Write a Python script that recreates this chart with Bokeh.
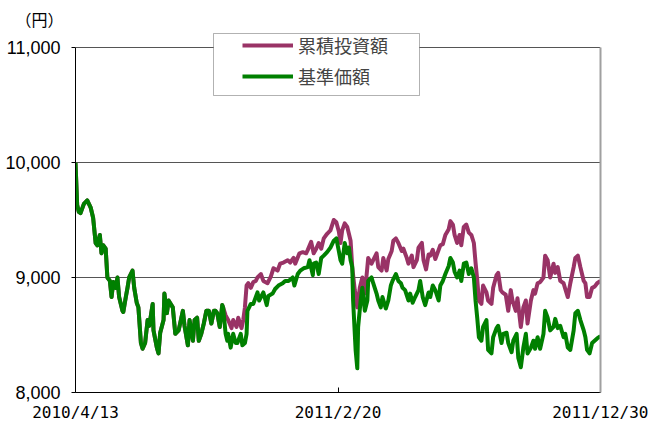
from bokeh.plotting import figure
from bokeh.models import (Range1d, NumeralTickFormatter, FixedTicker, Legend,
                          LegendItem, BoxAnnotation, LinearAxis)
from bokeh.core.properties import value
from bokeh.embed import file_html
from bokeh.resources import INLINE

# ---- data (days since 2010/4/13, yen) ----
green_name = "基準価額"
purple_name = "累積投資額"
y_unit = "（円）"

x_tick_days = [0, 313, 626]
x_tick_labels = ["2010/4/13", "2011/2/20", "2011/12/30"]
y_ticks = [8000, 9000, 10000, 11000]

green_days = [
    0, 2, 4, 6, 10, 14, 18, 21, 24, 26,
    29, 31, 33, 36, 38, 41, 43, 45, 48, 50,
    52, 56, 57, 60, 62, 64, 68, 70, 73, 75,
    78, 80, 83, 86, 88, 92, 93, 97, 99, 101,
    105, 106, 109, 111, 116, 119, 123, 128, 130, 134,
    136, 140, 142, 145, 147, 150, 153, 156, 159, 162,
    165, 167, 169, 172, 175, 176, 179, 181, 182, 185,
    188, 191, 193, 197, 199, 202, 204, 205, 209, 212,
    217, 219, 224, 228, 230, 235, 238, 242, 247, 250,
    254, 259, 261, 265, 268, 272, 277, 279, 283, 284,
    287, 290, 293, 296, 300, 304, 308, 311, 314, 316,
    318, 321, 324, 326, 328, 330, 331, 334, 336, 337,
    340, 342, 345, 348, 349, 353, 355, 359, 361, 364,
    366, 370, 373, 376, 378, 382, 385, 388, 390, 393,
    397, 399, 402, 405, 409, 411, 414, 417, 421, 423,
    426, 429, 433, 435, 438, 441, 445, 447, 450, 452,
    455, 458, 460, 463, 466, 469, 472, 475, 477, 479,
    481, 484, 486, 490, 492, 496, 498, 502, 504, 508,
    510, 514, 516, 520, 522, 526, 528, 531, 534, 537,
    539, 543, 546, 548, 551, 554, 558, 560, 563, 566,
    570, 572, 575, 578, 582, 584, 587, 590, 594, 596,
    599, 602, 606, 608, 610, 613, 616, 619, 622, 626,
]
green_values = [
    10000, 9630, 9570, 9560, 9640, 9670, 9610, 9520, 9300, 9280,
    9370, 9210, 9280, 9250, 9000, 8970, 8830, 8960, 8910, 9000,
    8830, 8710, 8700, 8830, 8910, 9000, 9060, 8910, 8780, 8740,
    8430, 8380, 8430, 8630, 8580, 8770, 8540, 8390, 8340, 8520,
    8630, 8860, 8690, 8800, 8740, 8510, 8540, 8710, 8580, 8410,
    8630, 8450, 8630, 8650, 8450, 8510, 8600, 8710, 8710, 8600,
    8710, 8710, 8690, 8570, 8760, 8740, 8510, 8450, 8510, 8390,
    8510, 8430, 8430, 8510, 8410, 8430, 8510, 8710, 8770, 8770,
    8870, 8800, 8870, 8760, 8840, 8860, 8900, 8930, 8950, 8970,
    8970, 9000, 8930, 9030, 9060, 9080, 9090, 9150, 9020, 9120,
    9130, 9030, 9170, 9190, 9220, 9260, 9320, 9340, 9230, 9150,
    9120, 9300, 9210, 9260, 9150, 9090, 8800, 8370, 8210, 8570,
    8800, 8910, 8710, 8800, 8970, 9000, 8950, 8860, 8800, 8740,
    8830, 8730, 8800, 8930, 8970, 9030, 8970, 8950, 8910, 8890,
    8800, 8860, 8780, 8830, 8890, 8970, 8830, 8760, 8870, 8830,
    8930, 8890, 8800, 8930, 8970, 9030, 9100, 9170, 9130, 9050,
    9000, 9060, 8970, 9120, 9130, 9030, 9080, 9000, 8800, 8650,
    8480, 8450, 8570, 8630, 8370, 8340, 8480, 8560, 8580, 8430,
    8510, 8520, 8430, 8350, 8450, 8510, 8300, 8220, 8390, 8510,
    8340, 8390, 8450, 8380, 8480, 8380, 8510, 8710, 8650, 8540,
    8570, 8640, 8560, 8580, 8480, 8510, 8390, 8370, 8540, 8690,
    8710, 8630, 8540, 8480, 8370, 8340, 8430, 8450, 8470, 8490,
]

# cumulative investment equals the NAV until it splits off (day 179 on)
purple_days_late = [
    179, 182, 186, 188, 192, 194, 198, 200, 202, 204,
    206, 209, 212, 215, 217, 221, 224, 229, 233, 236,
    241, 244, 248, 253, 256, 260, 262, 267, 271, 275,
    277, 281, 284, 287, 290, 293, 296, 300, 304, 308,
    311, 314, 316, 318, 321, 324, 326, 328, 330, 333,
    336, 339, 342, 345, 348, 349, 353, 355, 359, 361,
    365, 367, 371, 373, 377, 379, 382, 385, 389, 391,
    395, 397, 401, 403, 407, 409, 413, 415, 418, 421,
    423, 426, 429, 433, 435, 438, 441, 445, 447, 450,
    452, 455, 458, 460, 463, 466, 469, 472, 475, 477,
    479, 481, 484, 486, 490, 492, 496, 498, 502, 504,
    507, 509, 513, 516, 519, 521, 525, 527, 531, 534,
    537, 539, 543, 546, 548, 551, 554, 558, 560, 563,
    566, 570, 572, 575, 578, 582, 584, 587, 590, 594,
    596, 599, 602, 606, 608, 610, 613, 616, 619, 622,
    626,
]
purple_values_late = [
    8670, 8630, 8560, 8630, 8570, 8650, 8560, 8630, 8740, 8930,
    8950, 8910, 8960, 8970, 9000, 9030, 8970, 8950, 9010, 9080,
    9060, 9120, 9130, 9150, 9130, 9170, 9120, 9210, 9220, 9210,
    9240, 9310, 9210, 9250, 9300, 9250, 9340, 9380, 9410, 9500,
    9480, 9400, 9300, 9410, 9470, 9440, 9380, 9320, 9090, 8890,
    8740, 8910, 9000, 8860, 9090, 9170, 9120, 9150, 9210, 9090,
    9060, 9170, 9060, 9160, 9230, 9320, 9340, 9300, 9230, 9250,
    9170, 9120, 9190, 9090, 9150, 9260, 9300, 9150, 9070, 9200,
    9190, 9240, 9160, 9240, 9280, 9290, 9370, 9420, 9490, 9460,
    9370, 9300, 9370, 9280, 9440, 9460, 9390, 9370, 9300, 9130,
    8980, 8800, 8770, 8930, 8870, 8800, 8770, 8910, 9020, 9040,
    8890, 8870, 8850, 8710, 8890, 8800, 8710, 8820, 8570, 8740,
    8800, 8600, 8800, 8890, 8860, 8950, 8960, 9000, 9190, 9150,
    9000, 9120, 9040, 9090, 8970, 8950, 8900, 8830, 8950, 9090,
    9170, 9190, 9090, 8970, 8950, 8830, 8830, 8910, 8920, 8950,
    8970,
]

split_day = purple_days_late[0]
purple_days = [d for d in green_days if d < split_day] + purple_days_late
purple_values = [v for d, v in zip(green_days, green_values) if d < split_day] + purple_values_late

GREEN = "#008000"
PURPLE = "#993366"
JP = "Noto Sans CJK JP"

# frame extends a little above 11,000 so the legend box can overlap the top line
y_top = 11130

p = figure(width=648, height=428, output_backend="svg", toolbar_location=None,
           x_range=Range1d(x_tick_days[0], x_tick_days[-1]),
           y_range=Range1d(y_ticks[0], y_top),
           min_border_left=75, min_border_right=48, min_border_top=32,
           min_border_bottom=36)
p.background_fill_color = "white"
p.border_fill_color = "white"
p.outline_line_color = None

# unit label as title, top-left
p.title.text = y_unit
p.title.text_font = JP
p.title.text_font_size = "16px"
p.title.text_font_style = "normal"
p.title.text_color = "black"
p.title.align = "left"
p.title.offset = -60
p.title.standoff = 3

r_p = p.line(purple_days, purple_values, line_color=PURPLE, line_width=4,
             line_join="round")
r_g = p.line(green_days, green_values, line_color=GREEN, line_width=4,
             line_join="round")

# grid
p.xgrid.visible = False
p.ygrid.ticker = FixedTicker(ticks=y_ticks)
p.ygrid.grid_line_color = "#555555"
p.ygrid.grid_line_width = 1

# left axis
p.yaxis.ticker = FixedTicker(ticks=y_ticks)
p.yaxis.bounds = (y_ticks[0], y_ticks[-1])
p.yaxis.formatter = NumeralTickFormatter(format="0,0")
p.yaxis.major_tick_out = 4
p.yaxis.major_tick_in = 0
p.yaxis.minor_tick_line_color = None
p.yaxis.major_label_standoff = 11
p.yaxis.major_label_text_font = "Liberation Sans"
p.yaxis.major_label_text_font_size = "18px"
p.yaxis.major_label_text_color = "black"
p.yaxis.axis_line_color = "black"
p.yaxis.major_tick_line_color = "black"

# right border line
right = LinearAxis(ticker=FixedTicker(ticks=[]), bounds=(y_ticks[0], y_ticks[-1]),
                   axis_line_color="#a0a0a0", axis_line_width=2,
                   major_tick_line_color=None, minor_tick_line_color=None,
                   major_label_text_font_size="0px")
p.add_layout(right, "right")

# bottom axis
p.xaxis.ticker = FixedTicker(ticks=x_tick_days)
p.xaxis.major_label_overrides = {d: lab for d, lab in zip(x_tick_days, x_tick_labels)}
p.xaxis.major_tick_out = 0
p.xaxis.major_tick_in = 5
p.xaxis.minor_tick_line_color = None
p.xaxis.major_label_standoff = 10
p.xaxis.major_label_text_font = "DejaVu Sans Mono"
p.xaxis.major_label_text_font_size = "16px"
p.xaxis.major_label_text_color = "black"
p.xaxis.axis_line_color = "black"
p.xaxis.major_tick_line_color = "black"

# legend box + legend
p.add_layout(BoxAnnotation(left=138, right=344, bottom=297, top=359,
                           left_units="screen", right_units="screen",
                           bottom_units="screen", top_units="screen",
                           fill_color="white", fill_alpha=1.0,
                           line_color="black", line_width=1))
legend = Legend(items=[LegendItem(label=purple_name, renderers=[r_p]),
                       LegendItem(label=green_name, renderers=[r_g])],
                location=(167, 303), padding=0, margin=0, spacing=5,
                glyph_width=51, glyph_height=26, label_height=26,
                label_standoff=5, label_text_font=JP,
                label_text_font_size="18px", border_line_color=None,
                background_fill_alpha=0)
p.add_layout(legend)

open("out.html", "w").write(file_html(p, INLINE))
